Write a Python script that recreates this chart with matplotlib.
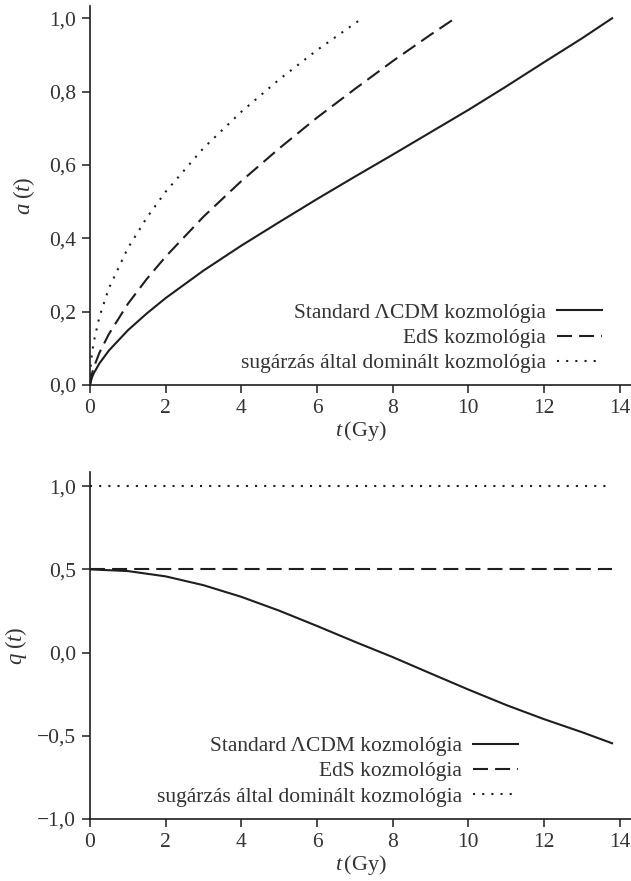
import matplotlib
matplotlib.use("Agg")
import matplotlib.pyplot as plt

plt.rcParams['font.family'] = ['Liberation Serif', 'DejaVu Serif']
plt.rcParams['mathtext.fontset'] = 'custom'
plt.rcParams['mathtext.rm'] = 'Liberation Serif'
plt.rcParams['mathtext.it'] = 'Liberation Serif:italic'

# a(t)
t_lcdm = [0, 0.05, 0.1, 0.25, 0.5, 1, 1.5, 2, 3, 4, 5, 6, 7, 8, 9, 10, 11, 12, 13, 13.8]
a_lcdm = [0, 0.020, 0.032, 0.059, 0.094, 0.149, 0.195, 0.237, 0.312, 0.380, 0.444, 0.507,
          0.568, 0.628, 0.689, 0.750, 0.814, 0.880, 0.945, 1.0]
t_eds = [0, 0.05, 0.1, 0.25, 0.5, 1, 1.5, 2, 3, 4, 5, 6, 7, 8, 9, 9.65]
a_eds = [0, 0.030, 0.048, 0.088, 0.139, 0.221, 0.289, 0.350, 0.459, 0.556, 0.645, 0.729,
         0.807, 0.883, 0.955, 1.0]
t_rad = [0, 0.02, 0.05, 0.1, 0.25, 0.5, 1, 1.5, 2, 3, 4, 5, 6, 7, 7.2]
a_rad = [0, 0.053, 0.083, 0.118, 0.186, 0.264, 0.373, 0.456, 0.527, 0.646, 0.745, 0.833,
         0.913, 0.986, 1.0]

# q(t)
t_q = [0, 1, 2, 3, 4, 5, 6, 7, 8, 9, 10, 11, 12, 13, 13.8]
q_lcdm = [0.5, 0.490, 0.458, 0.405, 0.335, 0.252, 0.160, 0.065, -0.027, -0.125, -0.222,
          -0.315, -0.400, -0.478, -0.545]
t_flat = [0, 13.8]
q_eds = [0.5, 0.5]
q_rad = [1.0, 1.0]

labels = ['Standard ΛCDM kozmológia', 'EdS kozmológia', 'sugárzás által dominált kozmológia']
xticks = [0, 2, 4, 6, 8, 10, 12, 14]

ink = '#1e1e1e'
txt = '#333333'
dash = (0, (7.2, 3.4))
dot = (0, (1, 3.4))

fig = plt.figure(figsize=(6.31, 8.81), dpi=100)
ax1 = fig.add_axes([0.1426, 0.563, 0.8574, 0.430])
ax2 = fig.add_axes([0.1426, 0.0704, 0.8574, 0.3938])


def style(ax):
    for s in ['top', 'right']:
        ax.spines[s].set_visible(False)
    for s in ['left', 'bottom']:
        ax.spines[s].set_linewidth(1.2)
        ax.spines[s].set_color(ink)
    ax.tick_params(direction='out', length=5.8, width=1.1, color=ink,
                   labelsize=15.5, labelcolor=txt, pad=4)
    ax.tick_params(axis='x', pad=4)
    ax.set_xticks(xticks)
    ax.set_xticklabels([str(v) for v in xticks])
    ax.set_xlim(0, 14.3)
    ax.set_xlabel(r'$t\,(\mathrm{Gy})$', fontsize=16, color=txt, labelpad=1)


def comma(v):
    return ('%.1f' % v).replace('.', ',').replace('-', '\u2212')


def legend(ax, anchor):
    ax.legend(loc='center right', bbox_to_anchor=anchor, frameon=False,
              markerfirst=False, fontsize=15.5, handlelength=2.1, handletextpad=0.5,
              labelspacing=0.24, borderpad=0, borderaxespad=0, labelcolor=txt)


ax1.plot(t_lcdm, a_lcdm, color=ink, lw=1.5, label=labels[0])
ax1.plot(t_eds, a_eds, color=ink, lw=1.5, linestyle=dash, label=labels[1])
ax1.plot(t_rad, a_rad, color=ink, lw=1.5, linestyle=dot, label=labels[2])
style(ax1)
ax1.set_ylim(0, 1.033)
yt1 = [0, 0.2, 0.4, 0.6, 0.8, 1.0]
ax1.set_yticks(yt1)
ax1.set_yticklabels([comma(v) for v in yt1])
ax1.set_ylabel(r'$a\;(t)$', fontsize=16.5, color=txt, labelpad=9)
legend(ax1, (0.946, 0.124))

ax2.plot(t_q, q_lcdm, color=ink, lw=1.5, label=labels[0])
ax2.plot(t_flat, q_eds, color=ink, lw=1.5, linestyle=dash, label=labels[1])
ax2.plot(t_flat, q_rad, color=ink, lw=1.5, linestyle=dot, label=labels[2])
style(ax2)
ax2.set_ylim(-1.0, 1.085)
yt2 = [-1.0, -0.5, 0.0, 0.5, 1.0]
ax2.set_yticks(yt2)
ax2.set_yticklabels([comma(v) for v in yt2])
ax2.set_ylabel(r'$q\;(t)$', fontsize=16.5, color=txt, labelpad=6)
legend(ax2, (0.791, 0.137))

fig.savefig('out.png', dpi=100)
